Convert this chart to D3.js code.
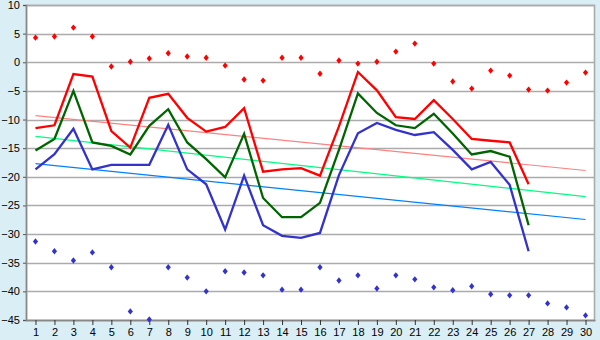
<!DOCTYPE html>
<html>
<head>
<meta charset="utf-8">
<script src="https://cdn.jsdelivr.net/npm/d3@7"></script>
<style>
  html, body { margin: 0; padding: 0; background: #d9eef5; }
  svg { display: block; }
  text { font-family: "Liberation Sans", Arial, sans-serif; font-size: 11px; fill: #000; }
</style>
</head>
<body>
<svg id="chart" width="600" height="340"></svg>
<script>
// Day numbers along the x axis
const categories = ["1","2","3","4","5","6","7","8","9","10","11","12","13","14","15",
  "16","17","18","19","20","21","22","23","24","25","26","27","28","29","30"];

// Y axis tick values
const yTicks = [10, 5, 0, -5, -10, -15, -20, -25, -30, -35, -40, -45];

// Upper scattered points (red)
const redPoints = [4.3, 4.5, 6.05, 4.5, -0.75, 0.1, 0.65, 1.57, 1.0, 0.8, -0.58, -3.0, -3.2, 0.8, 0.8,
  -2.0, 0.3, -0.23, 0.1, 1.86, 3.26, -0.23, -3.37, -4.6, -1.45, -2.33, -4.77, -4.95, -3.55, -1.8];

// Lower scattered points (blue)
const bluePoints = [-31.3, -33.0, -34.6, -33.2, -35.8, -43.5, -44.9, -35.8, -37.6, -40.0, -36.5, -36.7, -37.2, -39.7, -39.7,
  -35.8, -38.1, -37.2, -39.5, -37.2, -37.9, -39.3, -39.8, -39.1, -40.5, -40.7, -40.7, -42.1, -42.8, -44.2];

// Daily series, days 1–27
const redSeries = [-11.5, -11.0, -2.05, -2.5, -12.0, -14.9, -6.2, -5.5, -9.7, -12.1, -11.3, -8.0, -19.1, -18.7, -18.5,
  -19.8, -11.2, -1.7, -4.9, -9.6, -9.9, -6.6, -9.9, -13.4, -13.7, -14.0, -21.3];
const greenSeries = [-15.4, -13.4, -5.0, -14.0, -14.6, -16.1, -11.1, -8.2, -14.0, -16.9, -20.1, -12.5, -23.7, -27.05, -27.05,
  -24.55, -15.3, -5.45, -8.85, -11.0, -11.5, -9.0, -12.45, -16.1, -15.5, -16.5, -28.45];
const blueSeries = [-18.7, -16.05, -11.6, -18.7, -17.9, -17.9, -17.9, -10.9, -18.7, -21.3, -29.2, -19.8, -28.45, -30.3, -30.65,
  -29.8, -19.7, -12.4, -10.6, -11.8, -12.7, -12.2, -15.3, -18.7, -17.4, -21.4, -33.0];

// Linear trends: value at day 1 and at day 30
const trendDays = ["1", "30"];
const redTrend = [-9.3, -18.9];
const greenTrend = [-12.95, -23.45];
const blueTrend = [-17.7, -27.45];

const svg = d3.select("#chart");
const plotLeft = 26, plotRight = 595, plotTop = 5, plotBottom = 320;

const x = d3.scalePoint().domain(categories).range([plotLeft, plotRight]).padding(0.5);
const y = d3.scaleLinear().domain([-45, 10]).range([plotBottom, plotTop]);

// plot background
svg.append("rect")
  .attr("x", plotLeft).attr("y", plotTop)
  .attr("width", plotRight - plotLeft).attr("height", plotBottom - plotTop)
  .attr("fill", "#ffffff");

// horizontal grid lines
svg.append("g")
  .selectAll("line")
  .data(yTicks)
  .join("line")
  .attr("x1", plotLeft).attr("x2", plotRight)
  .attr("y1", d => Math.round(y(d)) + 0.5).attr("y2", d => Math.round(y(d)) + 0.5)
  .attr("stroke", "#ababab")
  .attr("stroke-width", 1.6);

// plot frame
svg.append("rect")
  .attr("x", plotLeft + 0.5).attr("y", plotTop + 0.5)
  .attr("width", plotRight - plotLeft - 1).attr("height", plotBottom - plotTop)
  .attr("fill", "none")
  .attr("stroke", "#ababab")
  .attr("stroke-width", 1.6);

// y axis
const yAxis = svg.append("g")
  .attr("transform", `translate(${plotLeft},0)`)
  .call(d3.axisLeft(y).tickValues(yTicks).tickSize(3).tickPadding(3));
yAxis.select(".domain").attr("stroke", "#888").attr("stroke-width", 1.5);
yAxis.selectAll(".tick line").attr("stroke", "#555");

// x axis
const xAxis = svg.append("g")
  .attr("transform", `translate(0,${plotBottom})`)
  .call(d3.axisBottom(x).tickSize(5).tickPadding(3).tickSizeOuter(0));
xAxis.select(".domain").attr("stroke", "#888").attr("stroke-width", 1.5);
xAxis.selectAll(".tick line").attr("stroke", "#333");
svg.selectAll(".tick text").style("font-family", "'Liberation Sans', Arial, sans-serif").style("font-size", "11px");

// trend lines
const trendLine = d3.line().x((d, i) => x(trendDays[i])).y(d => y(d));
[[redTrend, "#ff8080"], [greenTrend, "#00ff80"], [blueTrend, "#0080ff"]].forEach(([vals, col]) => {
  svg.append("path")
    .datum(vals)
    .attr("d", trendLine)
    .attr("fill", "none")
    .attr("stroke", col)
    .attr("stroke-width", 1.2);
});

// main series
const seriesLine = d3.line().x((d, i) => x(categories[i])).y(d => y(d));
[[blueSeries, "#3333cc"], [greenSeries, "#006400"], [redSeries, "#ff0000"]].forEach(([vals, col]) => {
  svg.append("path")
    .datum(vals)
    .attr("d", seriesLine)
    .attr("fill", "none")
    .attr("stroke", col)
    .attr("stroke-width", 2.3)
    .attr("stroke-linejoin", "miter");
});

// scattered diamond markers
const diamond = "M0,-3.2L2.6,0L0,3.2L-2.6,0Z";
[[redPoints, "#ff0000"], [bluePoints, "#3333cc"]].forEach(([vals, col]) => {
  svg.append("g")
    .selectAll("path")
    .data(vals)
    .join("path")
    .attr("d", diamond)
    .attr("transform", (d, i) => `translate(${x(categories[i])},${y(d)})`)
    .attr("fill", col);
});
</script>
</body>
</html>
